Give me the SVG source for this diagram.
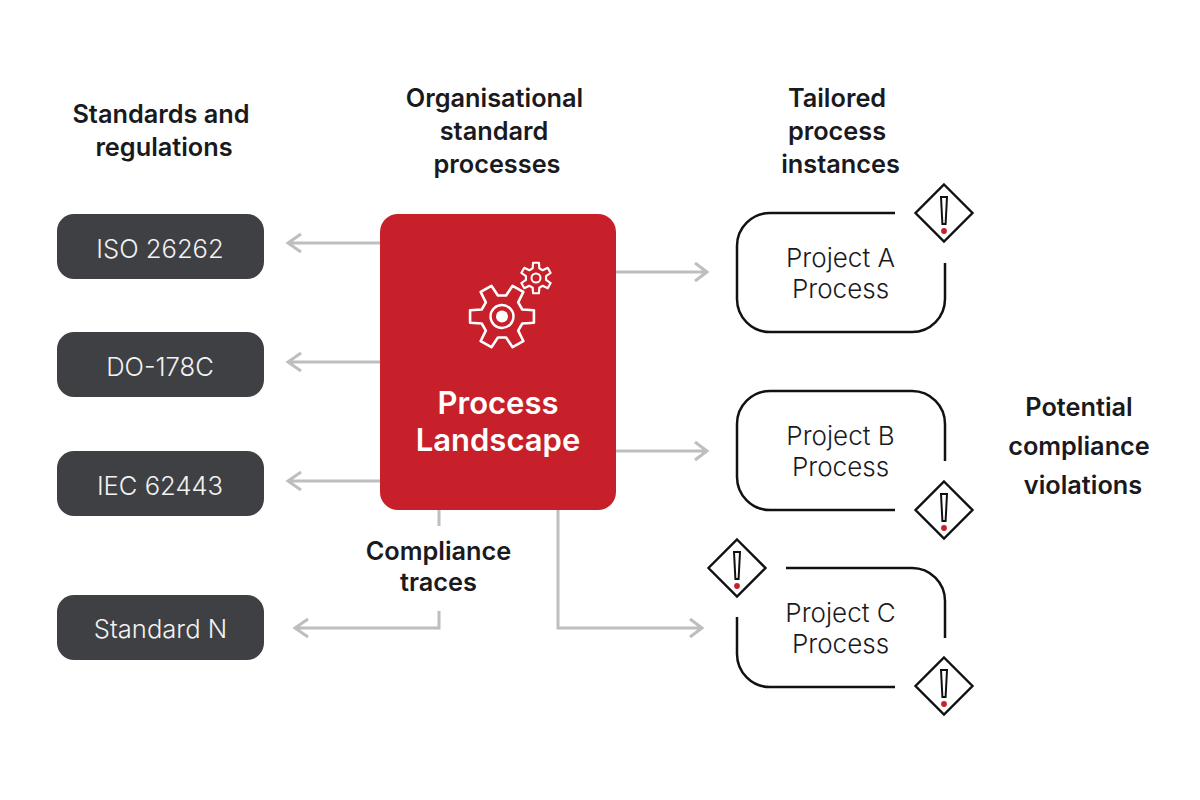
<svg xmlns="http://www.w3.org/2000/svg" width="1200" height="800" viewBox="0 0 1200 800">
<style>
text{font-family:"Inter","Liberation Sans",sans-serif;text-anchor:middle}
.h{font-size:25.3px;font-weight:600;fill:#1a1a1e}
.s{font-size:25.6px;font-weight:300;fill:#f2f2f2}
.p{font-size:26px;font-weight:300;fill:#1a1a1e}
.t{font-size:31px;font-weight:600;fill:#fff}
.d{fill:#3f4044}
.c{fill:none;stroke:#bcbec0;stroke-width:3}
.o{fill:none;stroke:#111;stroke-width:2.5;stroke-linecap:butt}
.g{fill:none;stroke:#fff;stroke-linejoin:round}
.w{fill:none;stroke:#111;stroke-width:2.4;stroke-linejoin:miter}
</style>
<defs>
<polygon id="gear" points="62.4,-21.5 98.2,-19.1 98.2,19.1 62.4,21.5 49.8,43.3 65.6,75.5 32.6,94.6 12.6,64.8 -12.6,64.8 -32.6,94.6 -65.6,75.5 -49.8,43.3 -62.4,21.5 -98.2,19.1 -98.2,-19.1 -62.4,-21.5 -49.8,-43.3 -65.6,-75.5 -32.6,-94.6 -12.6,-64.8 12.6,-64.8 32.6,-94.6 65.6,-75.5 49.8,-43.3"/>
<g id="warn">
<polygon class="w" points="0,-28.5 28.5,0 0,28.5 -28.5,0"/>
<polygon points="-3,-16 3,-16 1.6,11 -1.6,11" fill="none" stroke="#111" stroke-width="2"/>
<circle cy="18" r="2.9" fill="#c8202a"/>
</g>
</defs>
<rect width="1200" height="800" fill="#fff"/>

<g id="connectors">
<path class="c" d="M380 243H288M301 234l-13 9 13 9"/>
<path class="c" d="M380 362H288M301 353l-13 9 13 9"/>
<path class="c" d="M380 481H288M301 472l-13 9 13 9"/>
<path class="c" d="M439 510V526M439 611V628H295M308 619l-13 9 13 9"/>
<path class="c" d="M615 272H707M695 263l12 9-12 9"/>
<path class="c" d="M615 451H707M695 442l12 9-12 9"/>
<path class="c" d="M558 510V628H702M690 619l12 9-12 9"/>
</g>

<g id="label-standards"><text class="h" x="161" y="123">Standards and</text><text class="h" x="164" y="156">regulations</text></g>
<g id="label-org"><text class="h" x="494.500" y="107">Organisational</text><text class="h" x="494" y="140">standard</text><text class="h" x="497" y="173">processes</text></g>
<g id="label-tailored"><text class="h" x="837" y="107">Tailored</text><text class="h" x="837" y="140">process</text><text class="h" x="840.500" y="173">instances</text></g>
<g id="label-violations"><text class="h" x="1079" y="416">Potential</text><text class="h" x="1079" y="455">compliance</text><text class="h" x="1083" y="494">violations</text></g>
<g id="label-traces"><text class="h" x="438.500" y="560">Compliance</text><text class="h" x="438.500" y="591">traces</text></g>

<g id="iso"><rect class="d" x="57" y="214" width="207" height="65" rx="17"/><text class="s" x="160" y="258">ISO 26262</text></g>
<g id="do"><rect class="d" x="57" y="332" width="207" height="65" rx="17"/><text class="s" x="160" y="376">DO-178C</text></g>
<g id="iec"><rect class="d" x="57" y="451" width="207" height="65" rx="17"/><text class="s" x="160" y="495">IEC 62443</text></g>
<g id="stdn"><rect class="d" x="57" y="595" width="207" height="65" rx="17"/><text class="s" x="160.500" y="638">Standard N</text></g>

<g id="landscape">
<rect x="380" y="214" width="236" height="296" rx="18" fill="#c8202a"/>
<use href="#gear" class="g" transform="translate(502 316.500) scale(.325)" stroke-width="8"/>
<circle cx="502" cy="316.500" r="11.500" class="g" stroke-width="2.4"/>
<circle cx="502" cy="316.500" r="6" fill="#fff"/>
<use href="#gear" class="g" transform="translate(536 278) rotate(30) scale(.155)" stroke-width="14"/>
<circle cx="536" cy="278" r="4.500" class="g" stroke-width="2"/>
<text class="t" x="498" y="414">Process</text>
<text class="t" x="498" y="451">Landscape</text>
</g>

<g id="project-a">
<path class="o" d="M895 213H770a33 33 0 0 0-33 33V299a33 33 0 0 0 33 33H912a33 33 0 0 0 33-33V263"/>
<text class="p" x="840.500" y="267">Project A</text><text class="p" x="840.500" y="298">Process</text>
<use href="#warn" x="944" y="213"/>
</g>
<g id="project-b">
<path class="o" d="M895 510H770a33 33 0 0 1-33-33V424a33 33 0 0 1 33-33H912a33 33 0 0 1 33 33V461"/>
<text class="p" x="840.500" y="445">Project B</text><text class="p" x="840.500" y="476">Process</text>
<use href="#warn" x="944" y="510"/>
</g>
<g id="project-c">
<path class="o" d="M786 568H912a33 33 0 0 1 33 33V638M895 687H770a33 33 0 0 1-33-33V617"/>
<text class="p" x="840.500" y="622">Project C</text><text class="p" x="840.500" y="653">Process</text>
<use href="#warn" x="737" y="568"/>
<use href="#warn" x="944" y="686"/>
</g>
</svg>
